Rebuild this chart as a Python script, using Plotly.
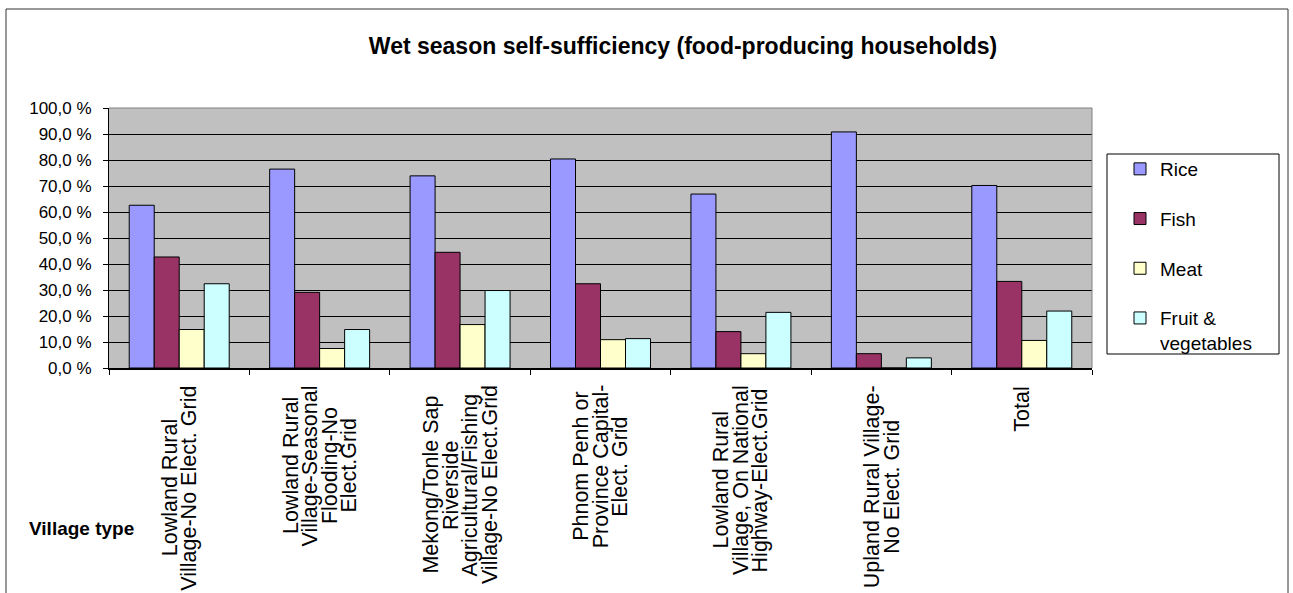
import plotly.graph_objects as go

# ---------------- data ----------------
cat_lines = [
    ["Lowland Rural", "Village-No Elect. Grid"],
    ["Lowland Rural", "Village-Seasonal", "Flooding-No", "Elect.Grid"],
    ["Mekong/Tonle Sap", "Riverside", "Agricultural/Fishing", "Village-No Elect.Grid"],
    ["Phnom Penh or", "Province Capital-", "Elect. Grid"],
    ["Lowland Rural", "Village, On National", "Highway-Elect.Grid"],
    ["Upland Rural Village-", "No Elect. Grid"],
    ["Total"],
]
categories = [" ".join(l) for l in cat_lines]

rice = [62.6, 76.5, 73.9, 80.4, 66.9, 90.8, 70.2]
fish = [42.7, 29.1, 44.5, 32.4, 14.0, 5.5, 33.3]
meat = [14.8, 7.5, 16.7, 10.9, 5.5, 0.0, 10.6]
fruit = [32.4, 14.8, 29.8, 11.3, 21.4, 3.9, 21.9]

series_names = ["Rice", "Fish", "Meat", "Fruit &<br>vegetables"]
series_colors = ["#9999FF", "#993366", "#FFFFCC", "#CCFFFF"]

y_tickvals = [0, 10, 20, 30, 40, 50, 60, 70, 80, 90, 100]
y_ticktext = ["0,0 %", "10,0 %", "20,0 %", "30,0 %", "40,0 %", "50,0 %",
              "60,0 %", "70,0 %", "80,0 %", "90,0 %", "100,0 %"]

title_text = "Wet season self-sufficiency (food-producing households)"
x_title = "Village type"

# ---------------- layout geometry ----------------
W_FIG, H_FIG = 1293, 593
ML, MR, MT, MB = 109, 201, 108, 225
PW = W_FIG - ML - MR
PH = H_FIG - MT - MB
FONT = "Liberation Sans, Arial, sans-serif"


def px_x(px):
    return (px - ML) / PW


def px_y(py):
    return (H_FIG - MB - py) / PH


# Arial / Liberation Sans advance widths (1/1000 em) for label centering
AW = {
    'a': 556, 'b': 556, 'c': 500, 'd': 556, 'e': 556, 'f': 278, 'g': 556, 'h': 556,
    'i': 222, 'j': 222, 'k': 500, 'l': 222, 'm': 833, 'n': 556, 'o': 556, 'p': 556,
    'q': 556, 'r': 333, 's': 500, 't': 278, 'u': 556, 'v': 500, 'w': 722, 'x': 500,
    'y': 500, 'z': 500,
    'A': 667, 'B': 667, 'C': 722, 'D': 722, 'E': 667, 'F': 611, 'G': 778, 'H': 722,
    'I': 278, 'J': 500, 'K': 667, 'L': 556, 'M': 833, 'N': 722, 'O': 778, 'P': 667,
    'Q': 778, 'R': 722, 'S': 667, 'T': 611, 'U': 722, 'V': 667, 'W': 944, 'X': 667,
    'Y': 667, 'Z': 611,
    ' ': 278, '.': 278, ',': 278, '-': 333, '/': 278, '&': 667,
}


def text_em(s):
    return sum(AW.get(ch, 556) for ch in s) / 1000.0


fig = go.Figure()
for name, vals, col in zip(series_names, [rice, fish, meat, fruit], series_colors):
    fig.add_trace(go.Bar(
        x=categories, y=vals, name=name, legendgroup=name,
        marker=dict(color=col, line=dict(color="black", width=1)),
    ))

annotations = []
LABEL_SIZE = 21.5
LABEL_TOP = 385
LINE_STEP = 19.5
cat_px = PW / len(categories)
for i, lines in enumerate(cat_lines):
    n = len(lines)
    longest = max(text_em(s) for s in lines) * LABEL_SIZE
    cy = LABEL_TOP + longest / 2
    for j, s in enumerate(lines):
        annotations.append(dict(
            x=i + (j - (n - 1) / 2) * LINE_STEP / cat_px, xref="x",
            y=px_y(cy), yref="paper", text=s, textangle=-90, showarrow=False,
            xanchor="center", yanchor="middle",
            font=dict(family=FONT, size=LABEL_SIZE, color="black"),
        ))

annotations.append(dict(
    x=px_x(81), xref="paper", y=px_y(528), yref="paper", text="<b>" + x_title + "</b>",
    showarrow=False, xanchor="center", yanchor="middle",
    font=dict(family=FONT, size=19, color="black"),
))

shapes = [
    # outer chart border
    dict(type="rect", xref="paper", yref="paper",
         x0=px_x(6), x1=px_x(1288), y0=-1.2, y1=px_y(9),
         line=dict(color="#333333", width=1), fillcolor="rgba(0,0,0,0)", layer="below"),
    # plot area border (top and right, gray)
    dict(type="line", xref="paper", yref="paper", x0=0, x1=1, y0=1, y1=1,
         line=dict(color="#808080", width=1), layer="above"),
    dict(type="line", xref="paper", yref="paper", x0=1, x1=1, y0=0, y1=1,
         line=dict(color="#808080", width=1), layer="above"),
    # legend box
    dict(type="rect", xref="paper", yref="paper",
         x0=px_x(1107), x1=px_x(1279), y0=px_y(354), y1=px_y(154),
         line=dict(color="black", width=1), fillcolor="white", layer="below"),
]

fig.update_layout(
    width=W_FIG, height=H_FIG,
    margin=dict(l=ML, r=MR, t=MT, b=MB),
    paper_bgcolor="white", plot_bgcolor="#C0C0C0",
    font=dict(family=FONT, color="black"),
    title=dict(text="<b>" + title_text + "</b>", x=px_x(683), xref="paper", xanchor="center",
               y=1 - 46 / H_FIG, yref="container", yanchor="middle",
               font=dict(family=FONT, size=23, color="black")),
    barmode="group", bargap=0.288, bargroupgap=0,
    xaxis=dict(
        showticklabels=False, showgrid=False, zeroline=False,
        showline=True, linecolor="black", linewidth=2,
        ticks="outside", tickson="boundaries", ticklen=5, tickcolor="black", tickwidth=1,
        range=[-0.5, len(categories) - 0.5],
    ),
    yaxis=dict(
        range=[0, 100], tickvals=y_tickvals, ticktext=y_ticktext,
        showgrid=True, gridcolor="black", gridwidth=1, zeroline=False,
        showline=True, linecolor="black", linewidth=1,
        ticks="outside", ticklen=5, tickcolor="black",
        tickfont=dict(family=FONT, size=17, color="black"),
        ticklabelstandoff=8,
    ),
    legend=dict(
        x=px_x(1120), y=px_y(150), xanchor="left", yanchor="top",
        xref="paper", yref="paper",
        bgcolor="rgba(0,0,0,0)", borderwidth=0,
        font=dict(family=FONT, size=19, color="black"),
        tracegroupgap=22, valign="top", traceorder="grouped",
    ),
    annotations=annotations,
    shapes=shapes,
)

fig.write_html("out.html")
